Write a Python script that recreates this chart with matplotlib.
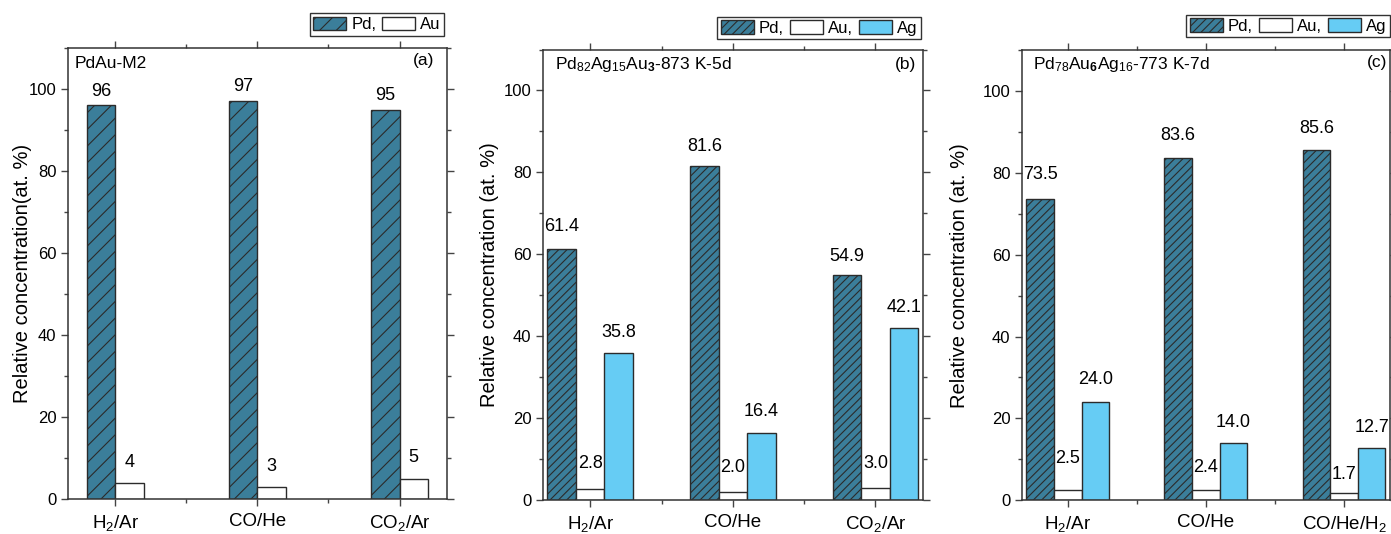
import matplotlib
matplotlib.use("Agg")
import matplotlib.pyplot as plt
import numpy as np
from matplotlib.ticker import MultipleLocator, FixedLocator

plt.rcParams['font.family'] = ['Liberation Sans', 'DejaVu Sans']
plt.rcParams['mathtext.fontset'] = 'custom'
plt.rcParams['mathtext.rm'] = 'Liberation Sans'
plt.rcParams['mathtext.it'] = 'Liberation Sans:italic'
plt.rcParams['mathtext.bf'] = 'Liberation Sans:bold'
plt.rcParams['mathtext.default'] = 'regular'
plt.rcParams['hatch.linewidth'] = 0.8

# ---------------- data ----------------
cats_a = ["H$_2$/Ar", "CO/He", "CO$_2$/Ar"]
pd_a = [96, 97, 95]
au_a = [4, 3, 5]

cats_b = ["H$_2$/Ar", "CO/He", "CO$_2$/Ar"]
pd_b = [61.4, 81.6, 54.9]
au_b = [2.8, 2.0, 3.0]
ag_b = [35.8, 16.4, 42.1]

cats_c = ["H$_2$/Ar", "CO/He", "CO/He/H$_2$"]
pd_c = [73.5, 83.6, 85.6]
au_c = [2.5, 2.4, 1.7]
ag_c = [24.0, 14.0, 12.7]

PD_COLOR = '#3b7e9a'
AG_COLOR = '#66ccf4'
EDGE = '#2b2b2b'

W, H = 1391, 534
fig = plt.figure(figsize=(W / 100, H / 100), dpi=100)


def px_axes(l, r, t, b):
    return fig.add_axes([l / W, 1 - b / H, (r - l) / W, (b - t) / H])


def style(ax, cats, ylabel, label_x):
    x = np.arange(1, len(cats) + 1)
    ax.set_xlim(2 / 3, len(cats) + 1 / 3)
    ax.set_ylim(0, 110)
    ax.xaxis.set_major_locator(FixedLocator(x))
    ax.xaxis.set_minor_locator(FixedLocator(x[:-1] + 0.5))
    ax.set_xticklabels(cats, fontsize=13.5)
    ax.yaxis.set_major_locator(MultipleLocator(20))
    ax.yaxis.set_minor_locator(MultipleLocator(10))
    ax.tick_params(which='both', direction='out', top=True, right=True,
                   color='#444444', width=1.0)
    ax.tick_params(which='major', length=5)
    ax.tick_params(which='minor', length=3)
    ax.tick_params(axis='y', labelsize=12, pad=3)
    ax.tick_params(axis='x', pad=5)
    for s in ax.spines.values():
        s.set_color('#333333')
        s.set_linewidth(1.1)
    ax.set_ylabel(ylabel, fontsize=14.5)
    ax.yaxis.set_label_coords(label_x, 0.5)


def legend(ax, anchor, ncol):
    fig.legend(*ax.get_legend_handles_labels(), loc='upper right',
               bbox_to_anchor=anchor, ncol=ncol, fontsize=12,
               frameon=True, fancybox=False, edgecolor='#333333', framealpha=1,
               handlelength=2.0, handleheight=0.9, handletextpad=0.3,
               columnspacing=0.35, borderpad=0.2, borderaxespad=0)


# ---------------- panel (a) ----------------
ax = px_axes(67.7, 447, 48, 499)
x = np.arange(1, len(cats_a) + 1)
ax.bar(x - 0.1, pd_a, 0.2, facecolor=PD_COLOR, edgecolor=EDGE, hatch='//', lw=1.0, label='Pd,')
ax.bar(x + 0.1, au_a, 0.2, facecolor='white', edgecolor=EDGE, lw=1.0, label='Au')
for xi, v in zip(x, pd_a):
    ax.text(xi - 0.1, v + 3.5, f"{v}", ha='center', va='center', fontsize=13)
for xi, v in zip(x, au_a):
    ax.text(xi + 0.1, v + 5.0, f"{v}", ha='center', va='center', fontsize=13)
style(ax, cats_a, "Relative concentration(at. %)", -0.095)
ax.text(0.019, 0.965, "PdAu-M2", transform=ax.transAxes, ha='left', va='center', fontsize=12.5)
ax.text(0.966, 0.973, "(a)", transform=ax.transAxes, ha='right', va='center', fontsize=12.5)
legend(ax, (444.3 / W, 1 - 13.3 / H), 2)


# ---------------- panels (b), (c) ----------------
def three(ax, cats, pdv, auv, agv, au_dy, pd_dy, ag_dy):
    x = np.arange(1, len(cats) + 1)
    ax.bar(x - 0.2, pdv, 0.2, facecolor=PD_COLOR, edgecolor=EDGE, hatch='////', lw=1.0, label='Pd,')
    ax.bar(x, auv, 0.2, facecolor='white', edgecolor=EDGE, lw=1.0, label='Au,')
    ax.bar(x + 0.2, agv, 0.2, facecolor=AG_COLOR, edgecolor=EDGE, lw=1.0, label='Ag')
    for xi, v, dy in zip(x, pdv, pd_dy):
        ax.text(xi - 0.2, v + dy, f"{v:.1f}", ha='center', va='center', fontsize=13)
    for xi, v, dy in zip(x, auv, au_dy):
        ax.text(xi, v + dy, f"{v:.1f}", ha='center', va='center', fontsize=13)
    for xi, v, dy in zip(x, agv, ag_dy):
        ax.text(xi + 0.2, v + dy, f"{v:.1f}", ha='center', va='center', fontsize=13)


ax = px_axes(542.7, 923, 49.5, 500)
three(ax, cats_b, pd_b, au_b, ag_b, [6, 6, 6], [5.5, 4.8, 4.5], [5.2, 5.2, 4.8])
style(ax, cats_b, "Relative concentration (at. %)", -0.116)
ax.text(0.032, 0.966, "Pd$_{82}$Ag$_{15}$Au$_{\\mathbf{3}}$-873 K-5d", transform=ax.transAxes,
        ha='left', va='center', fontsize=12.5)
ax.text(0.983, 0.966, "(b)", transform=ax.transAxes, ha='right', va='center', fontsize=12.5)
legend(ax, (921 / W, 1 - 16.7 / H), 3)

ax = px_axes(1021.7, 1390, 50, 500.3)
three(ax, cats_c, pd_c, au_c, ag_c, [7.8, 5.5, 4.6], [6.2, 5.6, 5.2], [5.4, 5.1, 5.2])
style(ax, cats_c, "Relative concentration (at. %)", -0.144)
ax.text(0.031, 0.967, "Pd$_{78}$Au$_{\\mathbf{6}}$Ag$_{16}$-773 K-7d", transform=ax.transAxes,
        ha='left', va='center', fontsize=12.5)
ax.text(0.992, 0.973, "(c)", transform=ax.transAxes, ha='right', va='center', fontsize=12.5)
legend(ax, (1390 / W, 1 - 15 / H), 3)

fig.savefig("out.png", dpi=100)
